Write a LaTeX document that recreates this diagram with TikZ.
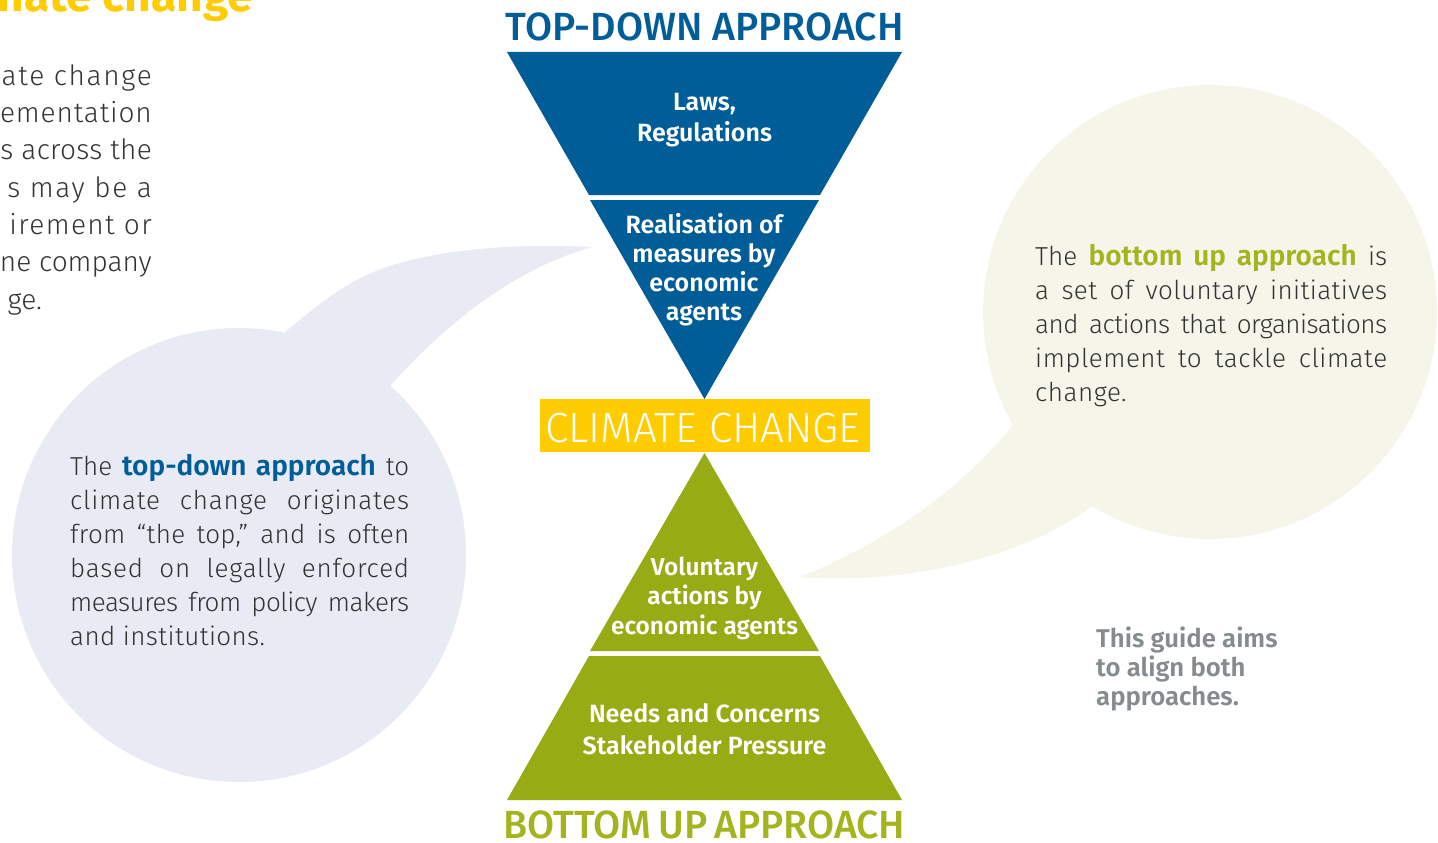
\documentclass[tikz,border=0pt]{standalone}
\usepackage{fontspec}
\setmainfont{Fira Sans}
\newfontfamily\flight{Fira Sans Light}
\newfontfamily\fsemi{Fira Sans SemiBold}
\newfontfamily\fmed{Fira Sans Medium}
\newfontfamily\fbold{Fira Sans Bold}
\definecolor{tdblue}{HTML}{005D97}
\definecolor{buolive}{HTML}{97AB14}
\definecolor{buhead}{HTML}{A3B41E}
\definecolor{ccyellow}{HTML}{FFCC00}
\definecolor{bubblea}{HTML}{E8EAF4}
\definecolor{bubbleb}{HTML}{F5F5EA}
\definecolor{bodytext}{HTML}{333333}
\definecolor{guidegrey}{HTML}{858B8E}
\newcommand{\jl}[3]{\makebox[#1pt][s]{\addfontfeature{LetterSpace=#2}#3}}
\newcommand{\hl}[2]{{\fontsize{28}{34}\fsemi\color{#1}#2}}
\newcommand{\ls}[2]{{\addfontfeature{LetterSpace=#1}#2}}
\tikzset{
 wlabel/.style={text=white,font=\fontsize{25}{#1}\selectfont\fsemi,align=center,inner sep=0pt},
 bodyl/.style={text=bodytext,font=\fontsize{26}{34}\flight,inner sep=0pt,align=left,anchor=north west},
 edgeline/.style={text=bodytext,font=\fontsize{28}{32}\flight,inner sep=0pt,anchor=base east},
 heading/.style={font=\fontsize{39.3}{42}\fmed,inner sep=0pt},
}
\begin{document}
\begin{tikzpicture}[x=1pt,y=-1pt]
\useasboundingbox (0,0) rectangle (1438,843);
\clip (0,0) rectangle (1438,843);
% cut-off text at the left edge
\node[font=\fontsize{46}{50}\fbold,text=ccyellow,inner sep=0pt,anchor=base east] (cut0) at (253,12) {nate change};
\node[edgeline] (cut1) at (152,85) {\ls{6}{ate change}};
\node[edgeline] (cut2) at (152,122) {\ls{3}{ementation}};
\node[edgeline] (cut3) at (152,159) {\ls{1}{s across the}};
\node[edgeline] (cut4) at (152,197) {\ls{6}{s may be a}};
\node[edgeline] (cut5) at (152,234) {\ls{5}{irement or}};
\node[edgeline] (cut6) at (152,271) {ne company};
\node[edgeline] (cut7) at (42,309) {ge.};
% bubbles
\fill[bubblea] (239,555) circle[radius=227];
\fill[bubblea] (285,332) .. controls (330,295) and (360,270) .. (420,258) .. controls (480,245) and (540,245) .. (592,247) .. controls (510,270) and (440,330) .. (391,385) -- (239,555) -- cycle;
\fill[bubbleb] (1210,312) circle[radius=227];
\fill[bubbleb] (1013,425) .. controls (960,490) and (890,540) .. (800,577) .. controls (900,585) and (1020,560) .. (1091,507) -- (1210,312) -- cycle;
% triangles
\fill[tdblue] (507,52) -- (902,52) -- (820,195) -- (589,195) -- cycle;
\fill[tdblue] (590,200) -- (819,200) -- (704.5,399) -- cycle;
\fill[buolive] (704.5,453) -- (819,651) -- (590,651) -- cycle;
\fill[buolive] (589,656) -- (820,656) -- (902,800) -- (507,800) -- cycle;
\fill[ccyellow] (540,399) rectangle (870,452);
\node[heading,text=tdblue] (tdh) at (704.5,27) {TOP-DOWN APPROACH};
\node[heading,text=buhead] (buh) at (704.5,825) {\spaceskip=7pt BOTTOM UP APPROACH};
\node[text=white,font=\fontsize{42.2}{46}\flight,inner sep=0pt] (cc) at (703,428) {CLIMATE CHANGE};
\node[wlabel=31] (n1) at (704.5,120) {Laws,\\Regulations};
\node[wlabel=29] (n2) at (704,270) {Realisation of\\measures by\\economic\\agents};
\node[wlabel=29.5,font=\fontsize{24.4}{29.5}\fsemi] (n3) at (704.5,598) {Voluntary\\actions by\\economic agents};
\node[wlabel=31.5] (n4) at (704.5,729) {Needs and Concerns\\Stakeholder Pressure};
\node[text=guidegrey,font=\fontsize{25.7}{29}\fsemi,align=left,anchor=north west,inner sep=0pt] (g) at (1096,627) {This guide aims\\to align both\\approaches.};
% bubble texts
\node[bodyl] (lt) at (70,454.5) {\jl{339}{0}{The \hl{tdblue}{top-down approach} to}\\\jl{339}{3}{climate change originates}\\\jl{339}{1}{from “the top,” and is often}\\\jl{339}{3}{based on legally enforced}\\\jl{339}{-2}{measures from policy makers}\\\ls{1.5}{and institutions.}};
\node[bodyl] (rt) at (1035,244.5) {\jl{352}{0}{The \hl{buhead}{bottom up approach} is}\\\jl{352}{1.5}{a set of voluntary initiatives}\\\jl{352}{-2}{and actions that organisations}\\\jl{352}{2}{implement to tackle climate}\\\ls{2}{change.}};
\end{tikzpicture}
\end{document}
